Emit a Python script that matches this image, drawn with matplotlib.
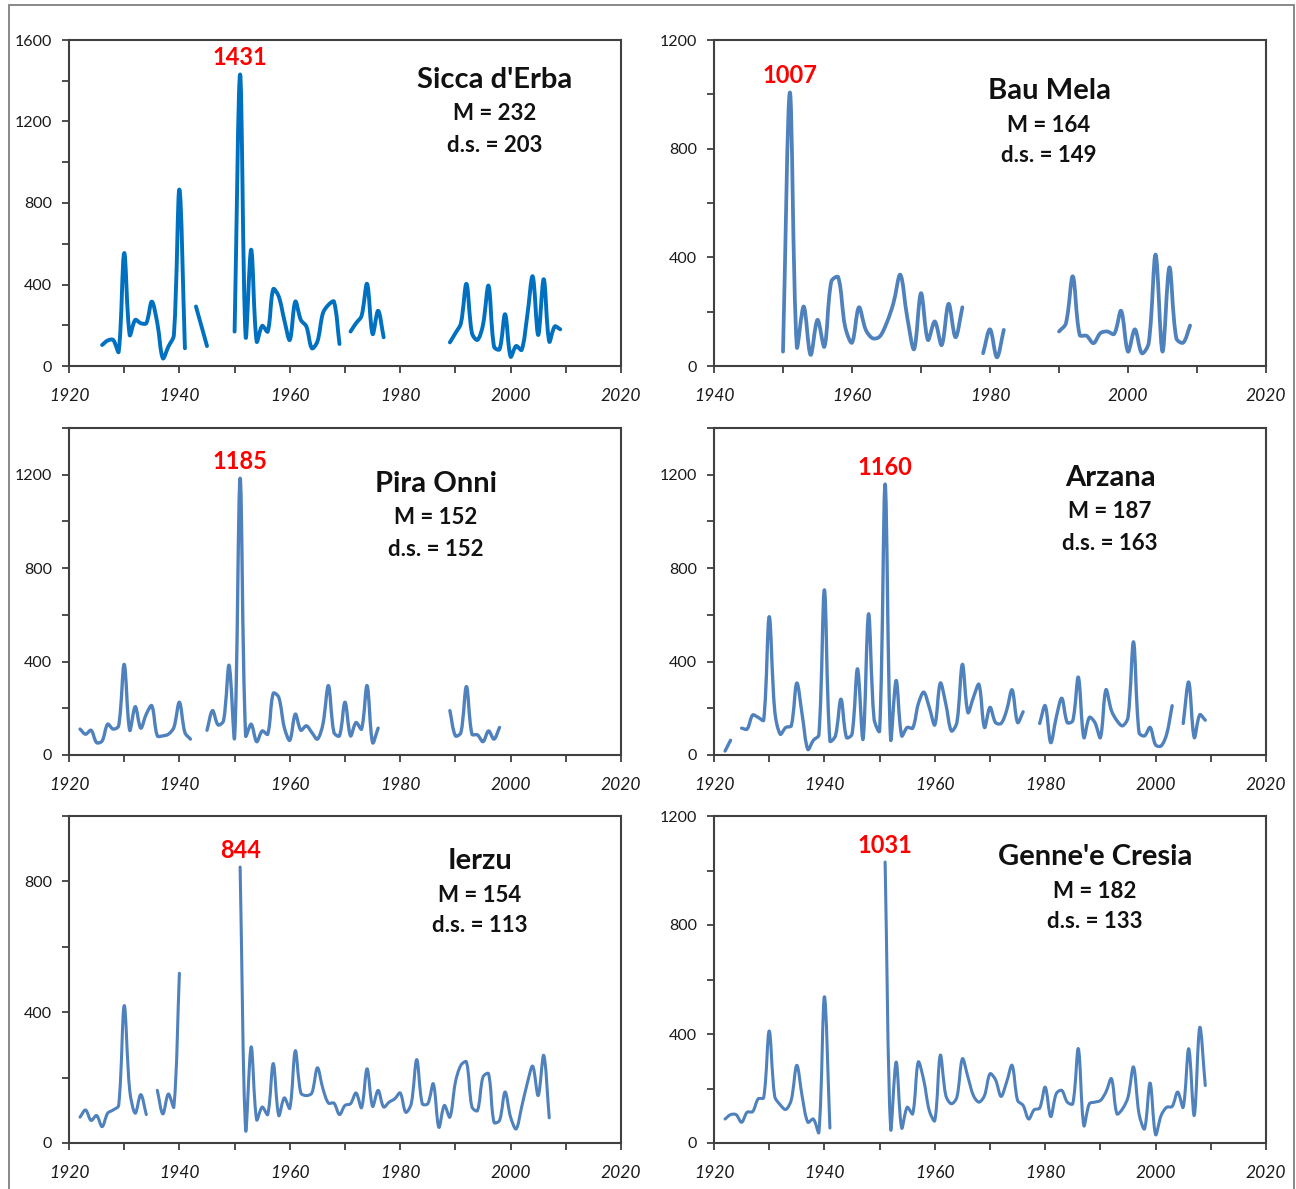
import numpy as np
import matplotlib
matplotlib.use("Agg")
import matplotlib.pyplot as plt
from matplotlib.path import Path
from matplotlib.patches import PathPatch, Rectangle

# ---------------- data ----------------
N = None
sicca_start = 1926
sicca_vals = [103, 125, 128, 70, 554, 152, 226, 210, 210, 316, 210, 38, 95, 152, 866, 87,
              N, 292, 195, 98, N, N, N, N,
              169, 1431, 144, 571, 120, 197, 169, 377, 341, 226, 128, 316, 226, 194, 87, 120,
              259, 300, 316, 108, N, 169, 210, 246, 403, 157, 271, 141,
              N, N, N, N, N, N, N, N, N, N, N,
              116, 161, 210, 403, 161, 128, 202, 394, 95, 82, 254, 46, 98, 79, 243, 440,
              152, 426, 120, 194, 180]

bau_start = 1950
bau_vals = [53, 1007, 71, 219, 41, 170, 71, 311, 327, 145, 86, 216, 133, 102, 108, 157,
            231, 336, 180, 62, 268, 96, 164, 77, 229, 106, 216, N, N,
            47, 135, 32, 133, N, N, N, N, N, N, N,
            127, 157, 330, 114, 111, 84, 121, 127, 118, 203, 53, 135, 47, 84, 410, 53,
            363, 102, 86, 149]

pira_start = 1922
pira_vals = [111, 89, 106, 53, 60, 132, 111, 125, 388, 106, 207, 115, 175, 211, 82, 82,
             89, 118, 226, 96, 68, N, N,
             106, 190, 129, 147, 384, 75, 1185, 82, 132, 57, 103, 89, 264, 247, 118, 63,
             175, 106, 125, 96, 68, 132, 297, 96, 82, 226, 82, 139, 111, 297, 53, 115,
             N, N, N, N, N, N, N, N, N, N, N, N,
             190, 82, 96, 293, 89, 86, 57, 103, 68, 118]

arzana_start = 1922
arzana_vals = [17, 63, N, 115, 111, 171, 161, 149, 592, 190, 89, 118, 125, 308, 168, 24,
               63, 86, 707, 60, 82, 239, 75, 89, 369, 68, 604, 154, 103, 1160, 68, 319,
               82, 118, 115, 218, 269, 204, 129, 308, 218, 103, 139, 388, 182, 247, 302,
               118, 204, 139, 135, 190, 279, 139, 185, N, N,
               135, 211, 53, 161, 243, 139, 147, 333, 75, 161, 139, 75, 279, 190, 147,
               125, 161, 484, 96, 82, 118, 43, 39, 89, 211, N,
               135, 312, 75, 172, 149]

ierzu_start = 1922
ierzu_vals = [79, 101, 69, 84, 50, 91, 101, 115, 420, 161, 91, 148, 87, N,
              161, 89, 150, 110, 519,
              N, N, N, N, N, N, N, N, N, N,
              844, 40, 294, 71, 110, 87, 243, 84, 138, 106, 282, 153, 145, 153, 230, 166,
              122, 122, 87, 115, 120, 153, 108, 227, 112, 161, 110, 125, 135, 153, 94,
              120, 255, 120, 120, 181, 48, 115, 79, 186, 238, 248, 110, 99, 202, 212, 63,
              69, 156, 79, 43, 110, 181, 235, 145, 268, 77]

genne_start = 1922
genne_vals = [88, 104, 104, 76, 113, 115, 162, 166, 411, 171, 140, 123, 158, 285, 168, 76,
              88, 39, 537, 55,
              N, N, N, N, N, N, N, N, N,
              1031, 52, 297, 55, 131, 107, 297, 230, 119, 82, 322, 174, 144, 168, 309, 242,
              174, 150, 174, 254, 232, 171, 223, 285, 156, 138, 88, 122, 128, 205, 97,
              181, 193, 150, 144, 346, 64, 144, 150, 156, 187, 236, 107, 125, 168, 279,
              107, 52, 220, 31, 101, 131, 134, 187, 131, 346, 101, 424, 211]

names = ["Sicca d'Erba", "Bau Mela", "Pira Onni", "Arzana", "Ierzu", "Genne'e Cresia"]
means = [232, 164, 152, 187, 154, 182]
stds = [203, 149, 152, 163, 113, 133]
starts = [sicca_start, bau_start, pira_start, arzana_start, ierzu_start, genne_start]
series = [sicca_vals, bau_vals, pira_vals, arzana_vals, ierzu_vals, genne_vals]
peak_labels = ["1431", "1007", "1185", "1160", "844", "1031"]

# ---------------- layout / style ----------------
W, H = 1296, 1189
fig = plt.figure(figsize=(W / 100, H / 100), dpi=100)

# axes boxes in pixels: left, top, right, bottom(y=0)
boxes = [(69, 40, 621, 366), (714, 40, 1266, 366),
         (69, 428, 621, 755), (714, 428, 1266, 755),
         (69, 816, 621, 1143), (714, 816, 1266, 1143)]
xlims = [(1920, 2020), (1940, 2020), (1920, 2020), (1920, 2020), (1920, 2020), (1920, 2020)]
ymaxs = [1600, 1200, 1400, 1400, 1000, 1200]
colors = ["#0070C0", "#4F81BD", "#4F81BD", "#4F81BD", "#4F81BD", "#4F81BD"]
lws = [2.8, 2.7, 2.4, 2.4, 2.2, 2.2]
# text centers in pixels: title x, title y
title_pos = [(495, 80), (1049, 91), (436, 484), (1110, 478), (480, 861), (1095, 857)]

FONT = "Lato"
spine_c = "#404040"


def smooth_path(xs, ys, sx, sy):
    """Excel-like smoothed line: cubic Bezier through the data points, with
    tangents scaled by neighbouring chord lengths (computed in screen scale)."""
    verts, codes = [], []
    segs, cur = [], []
    for x, y in zip(xs, ys):
        if y is None:
            if cur:
                segs.append(cur)
            cur = []
        else:
            cur.append((x, y))
    if cur:
        segs.append(cur)
    scale = np.array([sx, sy])
    for seg in segs:
        pts = np.array(seg, dtype=float) * scale
        n = len(pts)
        if n < 2:
            continue
        verts.append(pts[0] / scale); codes.append(Path.MOVETO)
        # tangents
        out_c, in_c = [], []
        for i in range(n):
            prv = pts[i - 1] if i > 0 else pts[i]
            nxt = pts[i + 1] if i < n - 1 else pts[i]
            d_prev = np.linalg.norm(pts[i] - prv)
            d_next = np.linalg.norm(nxt - pts[i])
            tot = d_prev + d_next
            tvec = nxt - prv
            if tot == 0:
                out_c.append(pts[i]); in_c.append(pts[i]); continue
            out_c.append(pts[i] + tvec * (d_next / tot) / 3.0)
            in_c.append(pts[i] - tvec * (d_prev / tot) / 3.0)
        for i in range(n - 1):
            verts += [out_c[i] / scale, in_c[i + 1] / scale, pts[i + 1] / scale]
            codes += [Path.CURVE4] * 3
    return Path(verts, codes)


for k in range(6):
    l, t, r, b = boxes[k]
    ax = fig.add_axes([l / W, 1 - b / H, (r - l) / W, (b - t) / H])
    x0, x1 = xlims[k]
    ax.set_xlim(x0, x1)
    ax.set_ylim(0, ymaxs[k])
    vals = series[k]
    years = list(range(starts[k], starts[k] + len(vals)))
    sx = (r - l) / (x1 - x0)
    sy = (b - t) / ymaxs[k]
    p = smooth_path(years, vals, sx, sy)
    ax.add_patch(PathPatch(p, fill=False, edgecolor=colors[k], lw=lws[k],
                           capstyle="round", joinstyle="round"))

    ax.set_xticks(np.arange(x0, x1 + 1, 10))
    ax.set_xticklabels([str(v) if (v - 1920) % 20 == 0 else "" for v in range(x0, x1 + 1, 10)])
    ax.set_yticks(np.arange(0, ymaxs[k] + 1, 200))
    ax.set_yticklabels([str(v) if v % 400 == 0 else "" for v in range(0, ymaxs[k] + 1, 200)])
    ax.tick_params(axis="both", direction="out", length=5, width=1.3, color=spine_c)
    ax.tick_params(axis="x", pad=11, labelsize=12.5)
    ax.tick_params(axis="y", pad=7, labelsize=11.5)
    for lab in ax.get_xticklabels():
        lab.set_fontfamily(FONT)
        lab.set_fontstyle("italic")
        lab.set_color("#1a1a1a")
    for lab in ax.get_yticklabels():
        lab.set_fontfamily(FONT)
        lab.set_color("#1a1a1a")
    for s in ax.spines.values():
        s.set_color(spine_c)
        s.set_linewidth(1.5)

    # peak label
    vv = [v if v is not None else -1 for v in vals]
    im = int(np.argmax(vv))
    ax.annotate(peak_labels[k], xy=(years[im], vals[im]), xytext=(0, 12),
                textcoords="offset points", ha="center", va="center",
                color="#FF0000", fontsize=17, fontweight="bold", family=FONT)

    # station text
    tx, ty = title_pos[k]
    ax_x = (tx - l) / (r - l)
    ax.text(ax_x, (b - ty) / (b - t), names[k], transform=ax.transAxes, ha="center",
            va="center", fontsize=21, fontweight="bold", family=FONT, color="#111111")
    ax.text(ax_x, (b - ty - 34) / (b - t), f"M = {means[k]}", transform=ax.transAxes,
            ha="center", va="center", fontsize=16, fontweight="bold", family=FONT,
            color="#111111")
    ax.text(ax_x, (b - ty - 65) / (b - t), f"d.s. = {stds[k]}", transform=ax.transAxes,
            ha="center", va="center", fontsize=16, fontweight="bold", family=FONT,
            color="#111111")

# outer frame
fig.add_artist(Rectangle((9 / W, -0.01), (1294 - 9) / W, 1 - 5 / H + 0.01,
                         transform=fig.transFigure, fill=False, edgecolor="#808080",
                         lw=1.3))

fig.savefig("out.png", dpi=100)
